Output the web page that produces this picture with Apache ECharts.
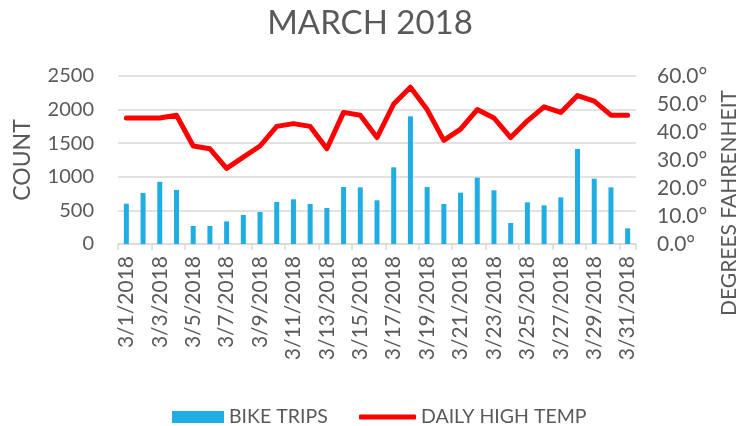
<!DOCTYPE html>
<html>
<head>
<meta charset="utf-8">
<script src="https://cdn.jsdelivr.net/npm/echarts@6/dist/echarts.min.js"></script>
<style>
  html, body { margin: 0; padding: 0; background: #ffffff; }
  #chart { width: 740px; height: 426px; }
</style>
</head>
<body>
<div id="chart"></div>
<script>
// March 2018: daily bike trips (bars, left axis) vs. daily high temperature (line, right axis)
const days = [
  '3/1/2018', '3/2/2018', '3/3/2018', '3/4/2018', '3/5/2018', '3/6/2018', '3/7/2018', '3/8/2018',
  '3/9/2018', '3/10/2018', '3/11/2018', '3/12/2018', '3/13/2018', '3/14/2018', '3/15/2018', '3/16/2018',
  '3/17/2018', '3/18/2018', '3/19/2018', '3/20/2018', '3/21/2018', '3/22/2018', '3/23/2018', '3/24/2018',
  '3/25/2018', '3/26/2018', '3/27/2018', '3/28/2018', '3/29/2018', '3/30/2018', '3/31/2018'
];
const bikeTrips = [
  600, 760, 925, 805, 268, 268, 337, 432, 476, 625, 665, 595, 536, 848, 843, 650,
  1141, 1900, 848, 595, 764, 987, 799, 313, 620, 575, 694, 1414, 972, 843, 233
];
const highTemp = [
  45, 45, 45, 46, 35, 34, 27, 31, 35, 42, 43, 42, 34, 47, 46, 38,
  50, 56, 48, 37, 41, 48, 45, 38, 44, 49, 47, 53, 51, 46, 46
];
const countTicks = { min: 0, max: 2500, step: 500 };
const tempTicks = { min: 0, max: 60, step: 10 };

const FONT = 'Lato';
const TEXT = '#595959';
const GRID = '#d9d9d9';
const BAR = '#1fade3';
const LINE = '#ff0000';

const chart = echarts.init(document.getElementById('chart'), null, { renderer: 'canvas' });
chart.setOption({
  animation: false,
  textStyle: { fontFamily: FONT, color: TEXT },
  title: {
    text: 'MARCH 2018',
    left: 'center',
    top: 2,
    textStyle: { fontFamily: FONT, fontSize: 33, fontWeight: 'normal', color: TEXT }
  },
  grid: { left: 118, right: 104, top: 76, bottom: 182 },
  legend: [
    {
      left: 167,
      top: 402,
      itemWidth: 52,
      itemHeight: 12,
      itemGap: 6,
      textStyle: { fontFamily: FONT, fontSize: 19.5, color: TEXT },
      data: [{ name: 'BIKE TRIPS', icon: 'rect' }]
    },
    {
      left: 354,
      top: 402,
      itemWidth: 57,
      itemHeight: 5,
      textStyle: { fontFamily: FONT, fontSize: 19.5, color: TEXT },
      data: [{ name: 'DAILY HIGH TEMP', icon: 'roundRect' }]
    }
  ],
  xAxis: {
    type: 'category',
    data: days,
    boundaryGap: true,
    axisLine: { lineStyle: { color: GRID, width: 1.5 } },
    axisTick: { show: true, interval: 1, length: 6, lineStyle: { color: GRID, width: 1.5 } },
    axisLabel: { interval: 1, rotate: 90, margin: 12, fontSize: 21, color: TEXT, fontFamily: FONT },
    splitLine: { show: false }
  },
  yAxis: [
    {
      type: 'value',
      min: countTicks.min,
      max: countTicks.max,
      interval: countTicks.step,
      name: 'COUNT',
      nameLocation: 'middle',
      nameGap: 84,
      nameTextStyle: { fontFamily: FONT, fontSize: 23, color: TEXT },
      axisLine: { show: false },
      axisTick: { show: false },
      axisLabel: {
        margin: 24, fontSize: 20, color: TEXT, fontFamily: FONT,
        formatter: v => String(v)
      },
      splitLine: { lineStyle: { color: GRID, width: 1.5 } }
    },
    {
      type: 'value',
      min: tempTicks.min,
      max: tempTicks.max,
      interval: tempTicks.step,
      axisLine: { show: false },
      axisTick: { show: false },
      axisLabel: {
        margin: 21, fontSize: 21, color: TEXT, fontFamily: FONT,
        formatter: v => v.toFixed(1) + '°'
      },
      splitLine: { show: false }
    }
  ],
  graphic: [
    {
      type: 'text',
      x: 729,
      y: 203,
      rotation: Math.PI / 2,
      style: {
        text: 'DEGREES FAHRENHEIT',
        fontFamily: FONT,
        fontSize: 21,
        fill: TEXT,
        align: 'center',
        verticalAlign: 'middle'
      }
    }
  ],
  series: [
    {
      name: 'BIKE TRIPS',
      type: 'bar',
      yAxisIndex: 0,
      data: bikeTrips,
      barWidth: 5,
      itemStyle: { color: BAR }
    },
    {
      name: 'DAILY HIGH TEMP',
      type: 'line',
      yAxisIndex: 1,
      data: highTemp,
      symbol: 'none',
      lineStyle: { color: LINE, width: 5, join: 'round', cap: 'round' },
      itemStyle: { color: LINE }
    }
  ]
});
</script>
</body>
</html>
